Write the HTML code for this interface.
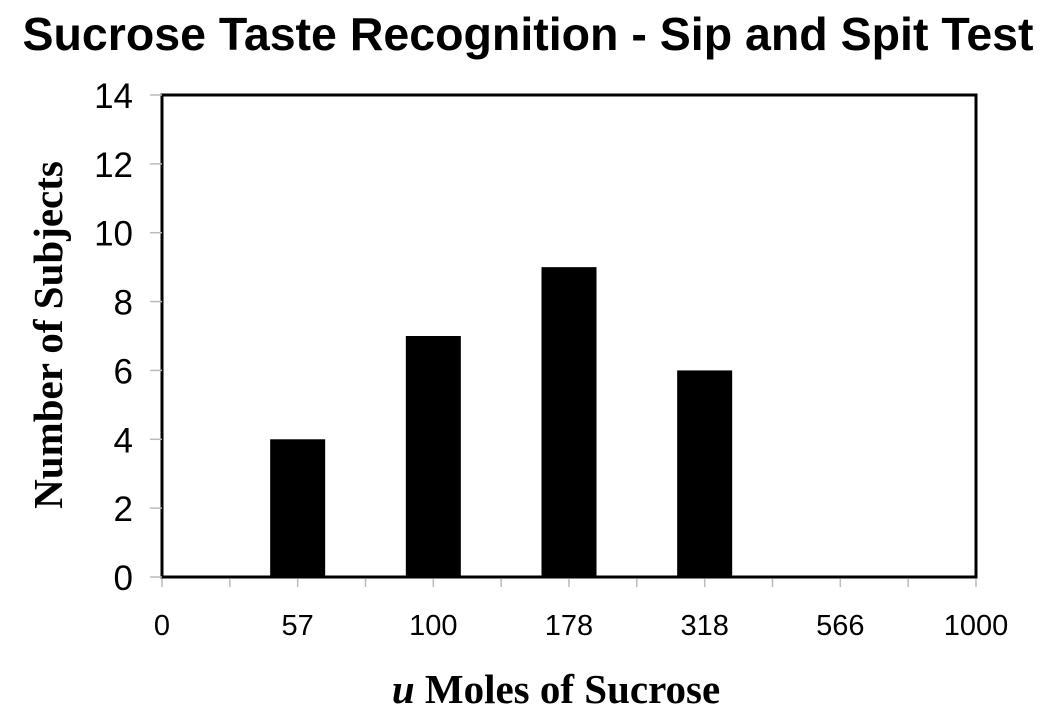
<!DOCTYPE html>
<html><head><meta charset="utf-8"><style>
body{margin:0;background:#fff;}
svg text{font-family:"Liberation Sans",Arial,sans-serif;}
</style></head><body>
<svg id="chart" width="1050" height="721" viewBox="0 0 1050 721" xmlns="http://www.w3.org/2000/svg">
<text x="528" y="50" text-anchor="middle" font-size="46.5" font-weight="bold">Sucrose Taste Recognition - Sip and Spit Test</text>
<g id="plot"></g>
<text transform="translate(62,335) rotate(-90)" text-anchor="middle" font-size="41" font-weight="bold" style="font-family:'Liberation Serif',serif">Number of Subjects</text>
<text x="556" y="703" text-anchor="middle" font-size="41" font-weight="bold" style="font-family:'Liberation Serif',serif"><tspan font-style="italic">u</tspan> Moles of Sucrose</text>
</svg>
<script>
const categories=["0","57","100","178","318","566","1000"];
const values=[0,4,7,9,6,0,0];
const yTicks=[0,2,4,6,8,10,12,14];
const L=162,R=976,T=95,B=577,yMax=14;
const NS="http://www.w3.org/2000/svg";
const g=document.getElementById('plot');
const step=(R-L)/(categories.length-1);
const xPos=i=>L+i*step;
const y=v=>B-(v/yMax)*(B-T);
function mk(t,a){const e=document.createElementNS(NS,t);for(const k in a)e.setAttribute(k,a[k]);g.appendChild(e);return e;}
const frame=mk('rect',{x:L,y:T,width:R-L,height:B-T,fill:'none',stroke:'#000','stroke-width':3});


yTicks.forEach(v=>{
 const tk=mk('line',{x1:L-12,x2:L,y1:y(v),y2:y(v),stroke:'#bbb','stroke-width':1.5});
 
 
 const t=mk('text',{x:L-29,y:y(v)+13,'text-anchor':'end','font-size':35});
 t.textContent=v;
 
 
});
for(let i=0;i<=(categories.length-1)*2;i++){
 const x=L+i*step/2;
 const tk=mk('line',{x1:x,x2:x,y1:B+2,y2:B+10,stroke:'#bbb','stroke-width':1.5});
 
 
}
const bw=55;
categories.forEach((c,i)=>{
 if(values[i]>0){
  const r=mk('rect',{x:xPos(i)-bw/2,y:y(values[i]),width:bw,height:B-y(values[i]),fill:'#000'});
  
  
 }
 const t=mk('text',{x:xPos(i),y:635,'text-anchor':'middle','font-size':29});
 t.textContent=c;
 
 
});
</script>
</body></html>
